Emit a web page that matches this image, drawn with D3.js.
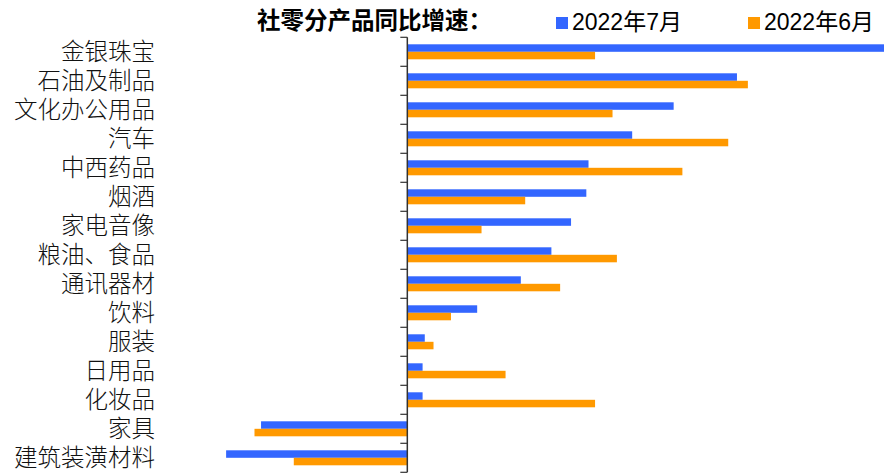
<!DOCTYPE html>
<html>
<head>
<meta charset="utf-8">
<script src="https://cdn.jsdelivr.net/npm/d3@7"></script>
<style>
  html, body { margin: 0; padding: 0; background: #fff; }
  svg { display: block; font-family: "Noto Sans CJK SC", "Liberation Sans", sans-serif; }
</style>
</head>
<body>
<div id="chart"></div>
<script>
// categories, top to bottom
const categories = ["金银珠宝", "石油及制品", "文化办公用品", "汽车", "中西药品", "烟酒", "家电音像",
  "粮油、食品", "通讯器材", "饮料", "服装", "日用品", "化妆品", "家具", "建筑装潢材料"];
const seriesNames = ["2022年7月", "2022年6月"];
// YoY growth, %
const july = [22.1, 15.1, 12.2, 10.3, 8.3, 8.2, 7.5, 6.6, 5.2, 3.2, 0.8, 0.7, 0.7, -6.7, -8.3];
const june = [8.6, 15.6, 9.4, 14.7, 12.6, 5.4, 3.4, 9.6, 7.0, 2.0, 1.2, 4.5, 8.6, -7.0, -5.2];
const colors = ["#3366ff", "#ff9900"];

const width = 884, height = 473;

const svg = d3.select("#chart").append("svg")
  .attr("width", width)
  .attr("height", height);

// scales
const x = d3.scaleLinear().domain([-10, 22]).range([189, 887.6]);
const y = d3.scaleBand().domain(categories).range([37.3, 37.3 + 29 * categories.length]);
const ySub = d3.scaleBand().domain(seriesNames).range([7, 22]);

const rows = categories.map((c, i) => ({ cat: c, vals: [july[i], june[i]] }));

// bars
const groups = svg.append("g").selectAll("g")
  .data(rows)
  .join("g")
  .attr("transform", d => `translate(0,${y(d.cat)})`);

groups.selectAll("rect")
  .data(d => d.vals.map((v, k) => ({ v, k })))
  .join("rect")
  .attr("x", d => x(Math.min(0, d.v)))
  .attr("width", d => Math.abs(x(d.v) - x(0)))
  .attr("y", d => ySub(seriesNames[d.k]))
  .attr("height", ySub.bandwidth())
  .attr("fill", d => colors[d.k]);

// zero axis with ticks at band boundaries
const axisG = svg.append("g").attr("stroke", "#333");
axisG.append("line")
  .attr("x1", x(0)).attr("x2", x(0))
  .attr("y1", y.range()[0]).attr("y2", y.range()[1])
  .attr("stroke-width", 1.5);

const bounds = categories.map(c => y(c)).concat([y.range()[1]]);
axisG.selectAll("line.tick")
  .data(bounds)
  .join("line")
  .attr("class", "tick")
  .attr("x1", x(0) - 7).attr("x2", x(0))
  .attr("y1", d => d).attr("y2", d => d)
  .attr("stroke-width", 1.2);

// category labels
svg.append("g").selectAll("text")
  .data(categories)
  .join("text")
  .attr("x", 155)
  .attr("y", d => y(d) + y.bandwidth() / 2)
  .attr("dy", "0.36em")
  .attr("text-anchor", "end")
  .style("font-size", "23.5px")
  .style("font-weight", 300)
  .style("fill", "#111")
  .text(d => d);

// title
svg.append("text")
  .attr("x", 257)
  .attr("y", 21)
  .attr("dy", "0.36em")
  .style("font-size", "23.5px")
  .style("font-weight", "bold")
  .style("fill", "#000")
  .text("社零分产品同比增速：");

// legend
const legendX = [556, 748];
const legend = svg.append("g").selectAll("g")
  .data(seriesNames)
  .join("g")
  .attr("transform", (d, i) => `translate(${legendX[i]},0)`);

legend.append("rect")
  .attr("x", 0).attr("y", 17)
  .attr("width", 12).attr("height", 12)
  .attr("fill", (d, i) => colors[i]);

legend.append("text")
  .attr("x", 16)
  .attr("y", 22)
  .attr("dy", "0.36em")
  .style("font-family", "'Liberation Sans', 'Noto Sans CJK SC', sans-serif")
  .style("font-size", "23px")
  .style("fill", "#000")
  .text(d => d);
</script>
</body>
</html>
